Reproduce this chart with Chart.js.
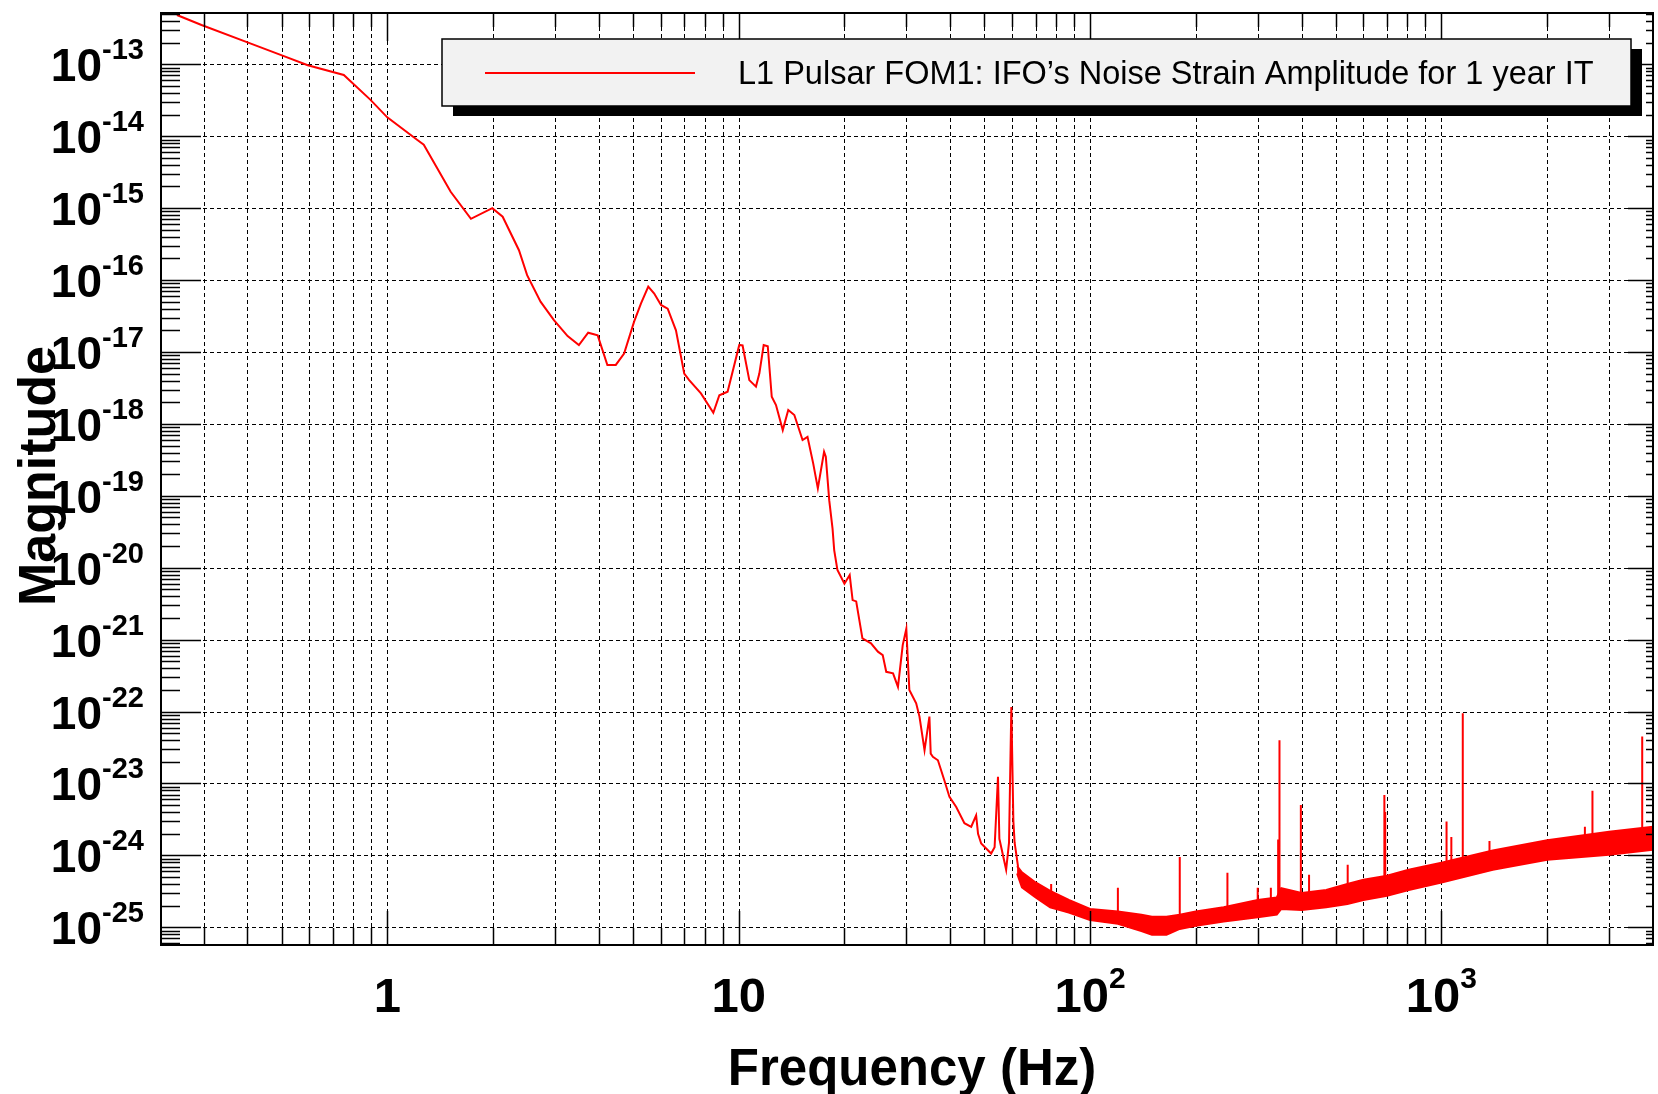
<!DOCTYPE html>
<html>
<head>
<meta charset="utf-8">
<script src="https://cdn.jsdelivr.net/npm/chart.js@4.4.1/dist/chart.umd.min.js"></script>
<style>
html,body{margin:0;padding:0;background:#fff;}
#wrap{width:1658px;height:1094px;position:relative;}
</style>
</head>
<body>
<div id="wrap"><canvas id="c" width="1658" height="1094"></canvas></div>
<script>
// ---------------- data ----------------
const seriesLabel = "L1 Pulsar FOM1: IFO\u2019s Noise Strain Amplitude for 1 year IT";
const xTitle = "Frequency (Hz)";
const yTitle = "Magnitude";

// main trace (Hz, strain amplitude)
const lineFreq = [0.252,0.296,0.402,0.497,0.594,0.752,0.896,1.0,1.218,1.27,1.515,1.73,1.99,2.13,2.37,2.50,2.73,2.98,3.26,3.51,3.73,3.97,4.23,4.47,4.72,5.04,5.27,5.53,5.75,6.01,6.28,6.63,7.0,7.23,7.81,8.47,8.81,9.30,10.04,10.26,10.72,11.2,11.45,11.78,12.1,12.42,12.77,13.35,13.84,14.4,15.2,15.7,16.3,16.8,17.5,17.7,18.1,18.5,18.7,19.1,20.0,20.7,21.1,21.6,22.5,23.8,24.9,25.7,26.3,27.5,28.4,29.3,30.0,30.3,30.6,32.0,32.7,33.8,34.9,35.2,35.7,36.9,38.5,39.8,41.6,43.9,45.9,47.4,48.0,49.0,52.3,53.5,54.7,55.2,57.7,58.8,59.7,60.5,61.0,62.4];
const lineAmp = [4.85e-13,3.52e-13,2.0e-13,1.35e-13,9.7e-14,7.1e-14,3.2e-14,1.83e-14,8.85e-15,7.6e-15,1.69e-15,7.1e-16,1.0e-15,7.6e-16,2.6e-16,1.17e-16,5.0e-17,2.78e-17,1.66e-17,1.25e-17,1.85e-17,1.7e-17,6.6e-18,6.6e-18,9.5e-18,2.64e-17,4.7e-17,8.1e-17,6.5e-17,4.5e-17,4.0e-17,2.0e-17,5.0e-18,4.06e-18,2.65e-18,1.43e-18,2.5e-18,2.8e-18,1.25e-17,1.23e-17,4.06e-18,3.3e-18,5.0e-18,1.25e-17,1.2e-17,2.38e-18,1.83e-18,8.2e-19,1.56e-18,1.33e-18,5.96e-19,6.6e-19,2.8e-19,1.27e-19,4.1e-19,3.5e-19,8.7e-20,3.5e-20,1.76e-20,9.3e-21,6.0e-21,7.9e-21,3.55e-21,3.4e-21,1.04e-21,8.9e-22,6.8e-22,6.1e-22,3.57e-22,3.4e-22,2.2e-22,8.4e-22,1.42e-21,5.2e-22,2.0e-22,1.3e-22,8.5e-23,2.9e-23,8.5e-23,2.6e-23,2.35e-23,2.1e-23,1.1e-23,6.5e-24,4.7e-24,2.8e-24,2.5e-24,3.6e-24,2.0e-24,1.46e-24,1.06e-24,1.3e-24,1.24e-23,1.7e-24,6.3e-25,1.5e-24,1.16e-22,3.0e-24,1.5e-24,6.9e-25];

// dense noise floor above ~60 Hz: upper / lower envelope of the trace
const bandFreq  = [62,64,70,77,87,100,120,140,150,165,180,200,240,300,340,350,400,470,540,600,700,807,1000,1400,2000,3000,4000];
const bandUpper = [7.1e-25,5.8e-25,4.2e-25,3.2e-25,2.4e-25,1.8e-25,1.66e-25,1.5e-25,1.4e-25,1.4e-25,1.5e-25,1.66e-25,1.9e-25,2.4e-25,2.6e-25,3.5e-25,3.0e-25,3.3e-25,4.0e-25,4.6e-25,5.2e-25,6.3e-25,7.9e-25,1.17e-24,1.62e-24,2.14e-24,2.5e-24];
const bandLower = [5.6e-25,3.6e-25,2.6e-25,1.9e-25,1.6e-25,1.26e-25,1.12e-25,8.9e-26,7.9e-26,7.9e-26,9.5e-26,1.05e-25,1.2e-25,1.38e-25,1.5e-25,1.8e-25,1.74e-25,1.9e-25,2.1e-25,2.4e-25,2.75e-25,3.3e-25,4.2e-25,6.3e-25,8.7e-25,1.02e-24,1.2e-24];

// narrow lines above the floor
const spikeFreq = [77.5,120,180,246,300,327,343,346,398,420,541,688,692,1034,1067,1150,1370,2560,2690,3727];
const spikeBase = [2.5e-25,1.3e-25,1.2e-25,1.5e-25,2.0e-25,2.2e-25,2.2e-25,2.2e-25,2.5e-25,2.5e-25,3.0e-25,4.0e-25,4.0e-25,6.0e-25,6.0e-25,6.0e-25,8.0e-25,1.3e-24,1.3e-24,1.6e-24];
const spikePeak = [4.0e-25,3.55e-25,9.5e-25,5.75e-25,3.55e-25,3.55e-25,1.66e-24,3.98e-23,5.0e-24,5.4e-25,7.4e-25,6.9e-24,4.0e-24,2.95e-24,1.8e-24,9.5e-23,1.58e-24,2.5e-24,7.9e-24,4.5e-23];

// axes
const xMajorTicks = [1, 10, 100, 1000];
const xTickBase   = ["1", "10", "10", "10"];
const xTickExp    = ["", "", "2", "3"];
const xMinorTicks = [0.3,0.4,0.5,0.6,0.7,0.8,0.9,2,3,4,5,6,7,8,9,20,30,40,50,60,70,80,90,200,300,400,500,600,700,800,900,2000,3000];
const yMajorTicks = [1e-13,1e-14,1e-15,1e-16,1e-17,1e-18,1e-19,1e-20,1e-21,1e-22,1e-23,1e-24,1e-25];
const yTickExp    = ["-13","-14","-15","-16","-17","-18","-19","-20","-21","-22","-23","-24","-25"];
const xRange = [0.227, 4000];
const yRange = [5.675e-26, 5.168e-13];

// ---------------- build ----------------
const RED = '#ff0000';
const mainPts = lineFreq.map((f, i) => ({x: f, y: lineAmp[i]}));
const upPts = bandFreq.map((f, i) => ({x: f, y: bandUpper[i]}));
const loPts = bandFreq.map((f, i) => ({x: f, y: bandLower[i]}));
const spikePts = [];
spikeFreq.forEach((f, i) => {
  spikePts.push({x: f, y: spikeBase[i]}, {x: f, y: spikePeak[i]}, {x: f, y: null});
});

const FONT = "'Liberation Sans', Arial, Helvetica, sans-serif";

function hLine(ctx, x1, y1, x2, y2) { ctx.beginPath(); ctx.moveTo(x1, y1); ctx.lineTo(x2, y2); ctx.stroke(); }

const decor = {
  id: 'decor',
  beforeDatasetsDraw(chart) {
    const {ctx, chartArea: a, scales: {x, y}} = chart;
    ctx.save();
    ctx.beginPath(); ctx.rect(a.left, a.top, a.right - a.left, a.bottom - a.top); ctx.clip();
    ctx.strokeStyle = '#000'; ctx.lineWidth = 1; ctx.setLineDash([4, 3]);
    for (const v of xMajorTicks.concat(xMinorTicks)) {
      const px = Math.round(x.getPixelForValue(v)) + 0.5;
      hLine(ctx, px, a.top, px, a.bottom);
    }
    for (const v of yMajorTicks) {
      const py = Math.round(y.getPixelForValue(v)) + 0.5;
      hLine(ctx, a.left, py, a.right, py);
    }
    ctx.restore();
  },
  afterDatasetsDraw(chart) {
    const {ctx, chartArea: a, scales: {x, y}} = chart;
    ctx.save();
    ctx.setLineDash([]);
    ctx.strokeStyle = '#000';
    // ticks
    ctx.lineWidth = 1.5;
    for (const v of xMajorTicks) {
      const px = Math.round(x.getPixelForValue(v)) + 0.5;
      hLine(ctx, px, a.bottom, px, a.bottom - 34);
      hLine(ctx, px, a.top, px, a.top + 28);
    }
    for (const v of xMinorTicks) {
      const px = Math.round(x.getPixelForValue(v)) + 0.5;
      hLine(ctx, px, a.bottom, px, a.bottom - 17);
      hLine(ctx, px, a.top, px, a.top + 14);
    }
    for (const v of yMajorTicks) {
      const py = Math.round(y.getPixelForValue(v)) + 0.5;
      hLine(ctx, a.left, py, a.left + 40, py);
      hLine(ctx, a.right, py, a.right - 25, py);
    }
    for (const d of yMajorTicks.concat([1e-26])) {
      for (let m = 2; m <= 9; m++) {
        const v = m * d;
        if (v < yRange[0] || v > yRange[1]) continue;
        const py = Math.round(y.getPixelForValue(v)) + 0.5;
        hLine(ctx, a.left, py, a.left + 19, py);
        hLine(ctx, a.right, py, a.right - 7, py);
      }
    }
    // frame
    ctx.lineWidth = 2;
    ctx.strokeRect(a.left, a.top, a.right - a.left, a.bottom - a.top);

    // y tick labels
    ctx.fillStyle = '#000';
    yMajorTicks.forEach((v, i) => {
      const py = y.getPixelForValue(v);
      ctx.font = `bold 46px ${FONT}`;
      ctx.textAlign = 'right'; ctx.textBaseline = 'alphabetic';
      ctx.fillText('10', 102, py + 17);
      ctx.font = `bold 29px ${FONT}`;
      ctx.textAlign = 'left';
      ctx.fillText(yTickExp[i], 102, py - 5);
    });
    // x tick labels
    xMajorTicks.forEach((v, i) => {
      const px = x.getPixelForValue(v);
      ctx.font = `bold 49px ${FONT}`;
      const wb = ctx.measureText(xTickBase[i]).width;
      ctx.font = `bold 30px ${FONT}`;
      const we = xTickExp[i] ? ctx.measureText(xTickExp[i]).width : 0;
      const x0 = px - (wb + we) / 2;
      ctx.textAlign = 'left'; ctx.textBaseline = 'alphabetic';
      ctx.font = `bold 49px ${FONT}`;
      ctx.fillText(xTickBase[i], x0, 1012);
      if (xTickExp[i]) {
        ctx.font = `bold 30px ${FONT}`;
        ctx.fillText(xTickExp[i], x0 + wb, 988);
      }
    });
    // axis titles
    ctx.font = `bold 51px ${FONT}`;
    ctx.textAlign = 'center'; ctx.textBaseline = 'alphabetic';
    ctx.fillText(xTitle, 912, 1085);
    ctx.font = `bold 52px ${FONT}`;
    ctx.save();
    ctx.translate(55, 476);
    ctx.rotate(-Math.PI / 2);
    ctx.fillText(yTitle, 0, 0);
    ctx.restore();

    // legend
    const ds = chart.data.datasets[0];
    const bx = 442, by = 39, bw = 1189, bh = 67;
    ctx.fillStyle = '#000';
    ctx.fillRect(bx + 11, by + 10, bw, bh);
    ctx.fillStyle = '#f2f2f2';
    ctx.fillRect(bx, by, bw, bh);
    ctx.lineWidth = 1.5; ctx.strokeStyle = '#000';
    ctx.strokeRect(bx, by, bw, bh);
    ctx.strokeStyle = ds.borderColor; ctx.lineWidth = 2;
    hLine(ctx, 485, 73, 695, 73);
    ctx.fillStyle = '#000';
    ctx.font = `32.5px ${FONT}`;
    ctx.textAlign = 'left'; ctx.textBaseline = 'alphabetic';
    ctx.fillText(ds.label, 738, 84);
    ctx.restore();
  }
};

new Chart(document.getElementById('c'), {
  type: 'line',
  data: {
    datasets: [
      {label: seriesLabel, data: mainPts, borderColor: RED, borderWidth: 2, pointRadius: 0, tension: 0, fill: false},
      {label: 'floor upper', data: upPts, borderColor: RED, backgroundColor: RED, borderWidth: 2, pointRadius: 0, tension: 0, fill: '+1'},
      {label: 'floor lower', data: loPts, borderColor: RED, borderWidth: 2, pointRadius: 0, tension: 0, fill: false},
      {label: 'lines', data: spikePts, borderColor: RED, borderWidth: 2, pointRadius: 0, tension: 0, fill: false, spanGaps: false}
    ]
  },
  options: {
    responsive: false,
    devicePixelRatio: 1,
    animation: false,
    parsing: true,
    layout: {padding: {top: 13, right: 5, bottom: 0, left: 0}},
    plugins: {legend: {display: false}, tooltip: {enabled: false}},
    scales: {
      x: {
        type: 'logarithmic', position: 'bottom', min: xRange[0], max: xRange[1],
        grid: {display: false}, border: {display: false}, ticks: {display: false},
        afterFit(s) { s.height = 149; }
      },
      y: {
        type: 'logarithmic', position: 'left', min: yRange[0], max: yRange[1],
        grid: {display: false}, border: {display: false}, ticks: {display: false},
        afterFit(s) { s.width = 161; }
      }
    }
  },
  plugins: [decor]
});
</script>
</body>
</html>
